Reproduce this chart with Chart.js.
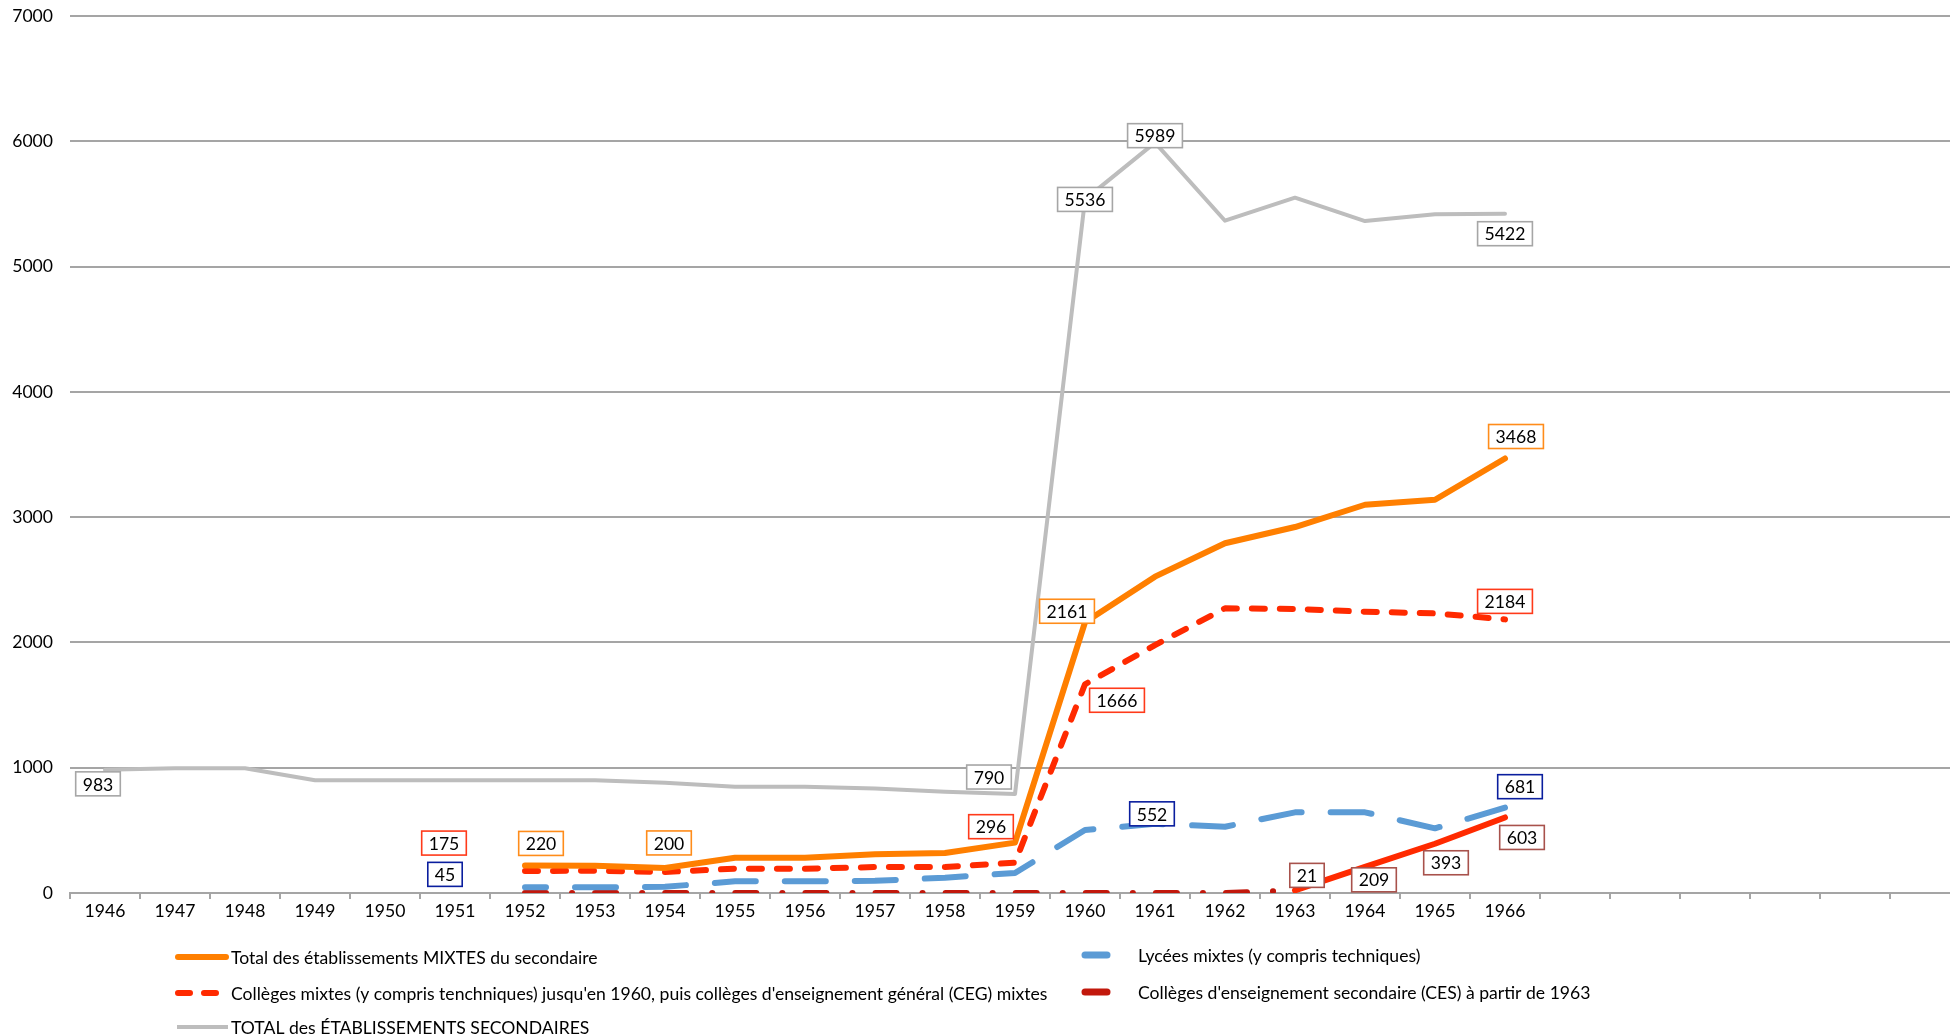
<!DOCTYPE html>
<html>
<head>
<meta charset="utf-8">
<script src="https://cdn.jsdelivr.net/npm/chart.js@4"></script>
<style>
html,body{margin:0;padding:0;background:#fff;overflow:hidden;width:1950px;height:1036px;}
#wrap{position:relative;width:1950px;height:1036px;overflow:hidden;}
canvas{display:block;}
</style>
</head>
<body>
<div id="wrap"><canvas id="c" width="1960" height="1036"></canvas></div>
<script>
// ---- DATA ----
const years = ['1946','1947','1948','1949','1950','1951','1952','1953','1954','1955','1956',
  '1957','1958','1959','1960','1961','1962','1963','1964','1965','1966','','','','','',''];

const totalMixtes = [null,null,null,null,null,null,220,218,200,282,282,309,319,402,2161,2525,2792,2921,3099,3139,3468];
const lyceesMixtes = [null,null,null,null,null,null,45,45,50,93,93,97,122,160,503,552,529,644,644,516,681];
const collegesMixtes = [null,null,null,null,null,null,175,178,168,194,194,207,207,242,1666,1979,2272,2267,2245,2232,2184];
const ces = [null,null,null,null,null,null,0,0,0,0,0,0,0,0,0,0,0,21,209,393,603];
const totalEtablissements = [983,995,995,900,900,900,900,900,880,848,848,835,808,790,5536,5989,5366,5550,5363,5417,5422];

const yTicks = [0,1000,2000,3000,4000,5000,6000,7000];

const seriesNames = [
  'Total des établissements MIXTES du secondaire',
  'Lycées mixtes (y compris techniques)',
  "Collèges mixtes (y compris tenchniques) jusqu'en 1960, puis collèges d'enseignement général (CEG) mixtes",
  "Collèges d'enseignement secondaire (CES) à partir de 1963",
  'TOTAL des ÉTABLISSEMENTS SECONDAIRES'
];

// data labels shown in the chart: series index, year, optional text
const shownLabels = [
  {s:4, year:'1946'}, {s:4, year:'1959'}, {s:4, year:'1960'}, {s:4, year:'1961'}, {s:4, year:'1966'},
  {s:0, year:'1952'}, {s:0, year:'1954'}, {s:0, year:'1960'}, {s:0, year:'1966'},
  {s:2, year:'1952'}, {s:2, year:'1959', text:'296'}, {s:2, year:'1960'}, {s:2, year:'1966'},
  {s:1, year:'1952'}, {s:1, year:'1961'}, {s:1, year:'1966'},
  {s:3, year:'1963'}, {s:3, year:'1964'}, {s:3, year:'1965'}, {s:3, year:'1966'}
];

// ---- STYLE ----
const FONT = 'Lato, "Open Sans", sans-serif';
const FS = 17.6;
const colors = ['#FF7F00', '#5B9BD5', '#FF2A00', '#C2180C', '#BDBDBD'];
const labelBorder = ['#FF8C1A', '#0A1E9E', '#FF3A1A', '#A8524C', '#A6A6A6'];
// label offsets from the data point, in pixels (same order as shownLabels)
const labelOffsets = [
  [-7,14],[-26,-17],[0,0],[0,-7],[0,20],
  [16,-22],[4,-25],[-18,-11],[11,-22],
  [-81,-28],[-24,-36],[32,16],[0,-18],
  [-80,-13],[-3,-10],[15,-21],
  [12,-15],[9,13],[11,19],[17,20]
];

const allSeries = [totalMixtes, lyceesMixtes, collegesMixtes, ces, totalEtablissements];

const datasets = [
  {label: seriesNames[0], data: totalMixtes, borderColor: colors[0], borderWidth: 6},
  {label: seriesNames[1], data: lyceesMixtes, borderColor: colors[1], borderWidth: 6,
    borderDash: [41, 29], borderDashOffset: 20},
  {label: seriesNames[2], data: collegesMixtes, borderColor: colors[2], borderWidth: 6,
    borderDash: [13, 15]},
  {label: seriesNames[3], data: ces, borderColor: colors[3], borderWidth: 6,
    segment: {
      borderColor: c => c.p0DataIndex >= 17 ? '#FF2A00' : colors[3],
      borderDash: c => c.p0DataIndex >= 17 ? [] : [21, 26, 0.1, 23]
    }},
  {label: seriesNames[4], data: totalEtablissements, borderColor: colors[4], borderWidth: 4}
];

const boxLabels = {
  id: 'boxLabels',
  afterDatasetsDraw(chart) {
    const ctx = chart.ctx;
    ctx.save();
    ctx.font = FS + 'px ' + FONT;
    shownLabels.forEach((l, k) => {
      const idx = years.indexOf(l.year);
      const el = chart.getDatasetMeta(l.s).data[idx];
      if (!el) return;
      const text = l.text || String(allSeries[l.s][idx]);
      const x = el.x + labelOffsets[k][0];
      const y = el.y + labelOffsets[k][1];
      const w = ctx.measureText(text).width + 14, h = 24;
      ctx.fillStyle = '#fff';
      ctx.fillRect(x - w/2, y - h/2, w, h);
      ctx.strokeStyle = labelBorder[l.s];
      ctx.lineWidth = 1.6;
      ctx.strokeRect(x - w/2, y - h/2, w, h);
      ctx.fillStyle = '#000';
      ctx.textAlign = 'center';
      ctx.textBaseline = 'middle';
      ctx.fillText(text, x, y + 1);
    });
    ctx.restore();
  }
};

const customLegend = {
  id: 'customLegend',
  afterDraw(chart) {
    const ctx = chart.ctx;
    const items = [
      {s:0, x1:178, x2:226, y:957, tx:231, dash:[], w:6, cap:'round'},
      {s:1, x1:1085, x2:1107, y:955, tx:1138, dash:[], w:7, cap:'round'},
      {s:2, x1:178, x2:220, y:993, tx:231, dash:[12,14], w:6, cap:'round'},
      {s:3, x1:1085, x2:1107, y:992, tx:1138, dash:[], w:7, cap:'round'},
      {s:4, x1:177, x2:228, y:1027, tx:231, dash:[], w:4, cap:'butt'}
    ];
    ctx.save();
    items.forEach(it => {
      ctx.beginPath();
      ctx.setLineDash(it.dash);
      ctx.lineCap = it.cap;
      ctx.lineWidth = it.w;
      ctx.strokeStyle = colors[it.s];
      ctx.moveTo(it.x1, it.y);
      ctx.lineTo(it.x2, it.y);
      ctx.stroke();
      ctx.setLineDash([]);
      ctx.font = FS + 'px ' + FONT;
      ctx.fillStyle = '#000';
      ctx.textAlign = 'left';
      ctx.textBaseline = 'middle';
      ctx.fillText(seriesNames[it.s], it.tx, it.y + 1);
    });
    ctx.restore();
  }
};

new Chart(document.getElementById('c'), {
  type: 'line',
  data: {labels: years, datasets: datasets},
  options: {
    responsive: false,
    animation: false,
    devicePixelRatio: 1,
    layout: {padding: {top: 16, right: 0, bottom: 0, left: 0}},
    plugins: {legend: {display: false}, tooltip: {enabled: false}},
    elements: {
      point: {radius: 0, hoverRadius: 0},
      line: {tension: 0, borderCapStyle: 'round', borderJoinStyle: 'round', fill: false}
    },
    scales: {
      x: {
        offset: true,
        grid: {offset: true, drawOnChartArea: false, drawTicks: true, tickLength: 6, color: '#A5A5A5', lineWidth: 2},
        border: {display: true, color: '#A5A5A5', width: 2},
        ticks: {autoSkip: false, maxRotation: 0, minRotation: 0, padding: 2, color: '#000',
          font: {family: FONT, size: FS}},
        afterFit(s) { s.height = 143; s.paddingLeft = 0; s.paddingRight = 0; }
      },
      y: {
        min: yTicks[0], max: yTicks[yTicks.length - 1],
        afterBuildTicks(s) { s.ticks = yTicks.map(v => ({value: v})); },
        ticks: {padding: 17, color: '#000', font: {family: FONT, size: FS},
          callback: v => String(v)},
        grid: {color: '#A5A5A5', lineWidth: 2, drawTicks: false},
        border: {display: false},
        afterFit(s) { s.width = 70; s.paddingTop = 0; s.paddingBottom = 0; }
      }
    }
  },
  plugins: [boxLabels, customLegend]
});
</script>
</body>
</html>
